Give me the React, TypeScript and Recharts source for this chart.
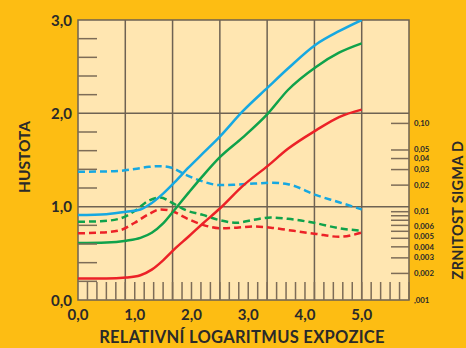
import React from 'react';
import { LineChart, Line, XAxis, YAxis, ReferenceLine, ReferenceArea, CartesianGrid } from 'recharts';

// Characteristic curves: density vs. relative log exposure (solid)
const exposure = [0, 0.5, 0.85, 1.1, 1.3, 1.5, 1.7, 1.95, 2.2, 2.5, 2.9, 3.35, 3.7, 4.2, 4.6, 5.0];
const densityBlue = [0.91, 0.92, 0.945, 0.97, 1.04, 1.14, 1.26, 1.42, 1.57, 1.75, 2.02, 2.28, 2.48, 2.74, 2.88, 3.0];
const densityGreen = [0.61, 0.615, 0.635, 0.665, 0.72, 0.82, 0.965, 1.15, 1.33, 1.53, 1.74, 2.0, 2.25, 2.5, 2.65, 2.75];
const densityRed = [0.23, 0.23, 0.24, 0.265, 0.325, 0.425, 0.545, 0.68, 0.82, 0.98, 1.22, 1.44, 1.62, 1.82, 1.96, 2.04];

// Granularity (sigma D) vs. relative log exposure (dashed, right log axis)
const grainExposure = [0, 0.4, 0.75, 1.0, 1.25, 1.45, 1.65, 1.9, 2.2, 2.5, 2.8, 3.1, 3.4, 3.7, 4.2, 4.6, 5.0];
const grainBlue = [0.0284, 0.0285, 0.029, 0.0305, 0.0322, 0.0328, 0.0315, 0.0262, 0.022, 0.02, 0.0203, 0.0208, 0.0213, 0.0205, 0.0154, 0.0128, 0.0106];
const grainGreen = [0.0077, 0.0078, 0.0084, 0.0102, 0.0134, 0.0145, 0.0127, 0.0104, 0.0092, 0.008, 0.0075, 0.0081, 0.0086, 0.0083, 0.0074, 0.0065, 0.0061];
const grainRed = [0.0057, 0.0058, 0.0062, 0.0075, 0.0094, 0.0106, 0.0102, 0.0085, 0.0071, 0.0065, 0.0066, 0.0068, 0.0066, 0.0062, 0.0056, 0.0052, 0.0058];

// Axis ticks and labels
const densityTicks = [0, 0.2, 0.4, 0.6, 0.8, 1, 1.2, 1.4, 1.6, 1.8, 2, 2.2, 2.4, 2.6, 2.8, 3];
const densityLabels = ['0,0', '1,0', '2,0', '3,0'];
const exposureLabels = ['0,0', '1,0', '2,0', '3,0', '4,0', '5,0'];
const grainTicks = [0.001, 0.002, 0.003, 0.004, 0.005, 0.006, 0.007, 0.008, 0.009, 0.01, 0.02, 0.03, 0.04, 0.05, 0.1];
const grainLabels: Record<string, string> = {
  '0.001': ',001', '0.002': '0,002', '0.003': '0,003', '0.004': '0,004', '0.005': '0,005', '0.006': '0,006',
  '0.01': '0,01', '0.02': '0,02', '0.03': '0,03', '0.04': '0,04', '0.05': '0,05', '0.1': '0,10',
};
// small nudges so the crowded labels stack without colliding
const grainLabelNudge: Record<string, number> = { '0.006': -5, '0.005': -2, '0.004': 0.5 };

const X_MAX = 35 / 6; // seven grid cells of 5/6 each
const minorStep = 1 / 6;
const exposureTicks = Array.from({ length: 36 }, (_, k) => k * minorStep);
const gridX = [1, 2, 3, 4, 5, 6].map((k) => (k * 5) / 6);

const toRows = (xs: number[], ys: number[]) => xs.map((x, i) => ({ x, v: ys[i] }));

const ORANGE = '#FDBD13';
const CREAM = '#FFE6B1';
const INK = '#2a2a2a';
const GRID = '#6e6253';
const TICK = '#7d6c57';
const BLUE = '#16A8E1';
const GREEN = '#0FA24B';
const RED = '#EC2127';
const FONT = 'Lato, "Open Sans", sans-serif';

const DensityTick = (props: any) => {
  const { x, y, payload } = props;
  const v = payload.value as number;
  const r = Math.round(v);
  if (Math.abs(v - r) < 1e-6) {
    return (
      <text x={x - 6} y={y} dy={5.5} textAnchor="end" fontFamily={FONT} fontWeight={700} fontSize={15} fill={INK}>
        {densityLabels[r]}
      </text>
    );
  }
  return <line x1={x} x2={x + 19} y1={y} y2={y} stroke={TICK} strokeWidth={1.5} />;
};

const ExposureTick = (props: any) => {
  const { x, y, index } = props;
  const showLabel = index % 6 === 0 && index / 6 < exposureLabels.length;
  return (
    <g>
      {index > 0 && <line x1={x} x2={x} y1={y - 18} y2={y} stroke={TICK} strokeWidth={1.5} />}
      {showLabel && (
        <text x={x} y={y + 20} textAnchor="middle" fontFamily={FONT} fontWeight={700} fontSize={15} fill={INK}>
          {exposureLabels[index / 6]}
        </text>
      )}
    </g>
  );
};

const GrainTick = (props: any) => {
  const { x, y, payload } = props;
  const v = payload.value as number;
  const key = String(v);
  const label = grainLabels[key];
  const nudge = grainLabelNudge[key] || 0;
  return (
    <g>
      {v > 0.001 && <line x1={x - 18} x2={x} y1={y} y2={y} stroke={TICK} strokeWidth={1.5} />}
      {label && (
        <text x={x + 5} y={y + nudge} dy={2.5} textAnchor="start" fontFamily={FONT} fontWeight={700} fontSize={7.8} fill={INK}>
          {label}
        </text>
      )}
    </g>
  );
};

export default function App() {
  return (
    <div style={{ position: 'absolute', left: 0, top: 0, width: 466, height: 348, background: ORANGE }}>
      <LineChart width={466} height={348} margin={{ top: 20, right: 0, bottom: 0, left: 0 }}>
        <CartesianGrid horizontal={false} vertical={false} fill={CREAM} yAxisId="density" />
        <XAxis
          xAxisId={0}
          dataKey="x"
          type="number"
          domain={[0, X_MAX]}
          allowDataOverflow
          ticks={exposureTicks}
          interval={0}
          tick={<ExposureTick />}
          tickSize={0}
          tickMargin={0}
          tickLine={false}
          axisLine={false}
          height={48}
        />
        <YAxis
          yAxisId="density"
          type="number"
          domain={[0, 3]}
          allowDataOverflow
          ticks={densityTicks}
          interval={0}
          tick={<DensityTick />}
          tickSize={0}
          tickMargin={0}
          tickLine={false}
          axisLine={false}
          width={78}
        />
        <YAxis
          yAxisId="grain"
          orientation="right"
          type="number"
          scale="log"
          domain={[0.001, 1.483]}
          allowDataOverflow
          ticks={grainTicks}
          interval={0}
          tick={<GrainTick />}
          tickSize={0}
          tickMargin={0}
          tickLine={false}
          axisLine={false}
          width={57}
        />
        {gridX.map((gx) => (
          <ReferenceLine key={'gx' + gx} x={gx} yAxisId="density" stroke={GRID} strokeWidth={1.5} />
        ))}
        {[1, 2].map((gy) => (
          <ReferenceLine key={'gy' + gy} y={gy} yAxisId="density" stroke={GRID} strokeWidth={1.5} />
        ))}
        <ReferenceArea x1={0} x2={X_MAX} y1={0} y2={3} yAxisId="density" fill="none" stroke={GRID} strokeWidth={1.5} />

        <Line data={toRows(grainExposure, grainBlue)} yAxisId="grain" dataKey="v" type="monotone" stroke={BLUE} strokeWidth={2.5} strokeDasharray="7 4" dot={false} isAnimationActive={false} />
        <Line data={toRows(grainExposure, grainGreen)} yAxisId="grain" dataKey="v" type="monotone" stroke={GREEN} strokeWidth={2.5} strokeDasharray="7 4" dot={false} isAnimationActive={false} />
        <Line data={toRows(grainExposure, grainRed)} yAxisId="grain" dataKey="v" type="monotone" stroke={RED} strokeWidth={2.5} strokeDasharray="7 4" dot={false} isAnimationActive={false} />
        <Line data={toRows(exposure, densityBlue)} yAxisId="density" dataKey="v" type="monotone" stroke={BLUE} strokeWidth={2.5} dot={false} isAnimationActive={false} />
        <Line data={toRows(exposure, densityGreen)} yAxisId="density" dataKey="v" type="monotone" stroke={GREEN} strokeWidth={2.5} dot={false} isAnimationActive={false} />
        <Line data={toRows(exposure, densityRed)} yAxisId="density" dataKey="v" type="monotone" stroke={RED} strokeWidth={2.5} dot={false} isAnimationActive={false} />

        <text x={242} y={343} textAnchor="middle" fontFamily={FONT} fontWeight={700} fontSize={16.5} letterSpacing={0.3} fill={INK}>
          RELATIVNÍ LOGARITMUS EXPOZICE
        </text>
        <text x={30} y={157} transform="rotate(-90 30 157)" textAnchor="middle" fontFamily={FONT} fontWeight={700} fontSize={15.5} fill={INK}>
          HUSTOTA
        </text>
        <text x={463} y={210} transform="rotate(-90 463 210)" textAnchor="middle" fontFamily={FONT} fontWeight={700} fontSize={14.5} letterSpacing={0.3} fill={INK}>
          ZRNITOST SIGMA D
        </text>
      </LineChart>
    </div>
  );
}
